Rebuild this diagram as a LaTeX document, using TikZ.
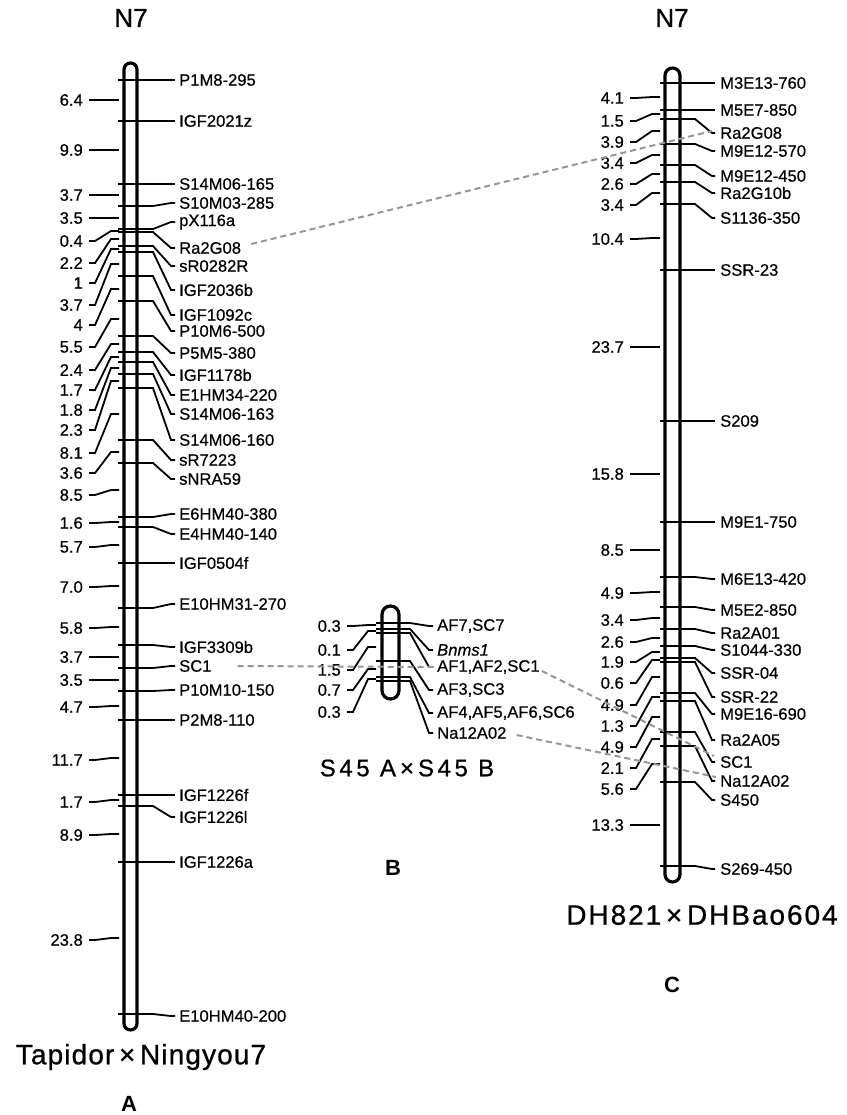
\documentclass[tikz,border=0pt]{standalone}
\usepackage{fontspec}
\setmainfont{Liberation Sans}
\usetikzlibrary{calc}
\definecolor{LinkGray}{RGB}{150,150,150}
\newcommand\lbl{\fontsize{16.6}{18}\selectfont\addfontfeature{FakeBold=0.5}}
\newcommand\ttl{\fontsize{28}{30}\selectfont\addfontfeature{FakeBold=0.8,LetterSpace=4}}

\begin{document}
\begin{tikzpicture}[x=1pt,y=-1pt,
    chrom/.style={line width=3.2pt,rounded corners=#1},
    chrom/.default=6.5pt,
    tick/.style={line width=1.8pt},
    mk/.style={anchor=west,inner sep=0pt,font=\lbl},
    dst/.style={anchor=east,inner sep=0pt,font=\lbl},
    link/.style={LinkGray,line width=2pt,dash pattern=on 6pt off 4pt}]
  \useasboundingbox (0,0) rectangle (846,1115);

  \draw[chrom] (124,63) rectangle (137,1030);
  \foreach \yt/\yl/\txt [count=\i] in {80/80/P1M8-295,121/121/IGF2021z,
      184/184/S14M06-165,206/203/S10M03-285,229/222/pX116a,232/248/Ra2G08,
      246/266/sR0282R,252/290/IGF2036b,276/315/IGF1092c,301/331/P10M6-500,
      336/353/P5M5-380,352/375/IGF1178b,362/395/E1HM34-220,374/414/S14M06-163,
      388/440/S14M06-160,440/460/sR7223,463/479/sNRA59,517/514/E6HM40-380,
      527/534/E4HM40-140,563/563/IGF0504f,608/604/E10HM31-270,645/647/IGF3309b,
      668/666/SC1,691/690/P10M10-150,720/720/P2M8-110,795/795/IGF1226f,
      806/817/IGF1226l,862/862/IGF1226a,1014/1016/E10HM40-200}{
    \draw[tick] (118,\yt) -- (153,\yt) -- (171,\yl) -- (175,\yl);
    \node[mk] (a\i) at (179,\yl) {\txt};
  }
  \foreach \yi/\yn/\d [count=\i] in {100/100/6.4,150/150/9.9,195/195/3.7,
      218/218/3.5,231/241/0.4,239/263/2.2,249/283/1,264/305/3.7,289/325/4,
      319/347/5.5,344/370/2.4,357/390/1.7,368/410/1.8,381/430/2.3,414/453/8.1,
      452/473/3.6,490/495/8.5,522/523/1.6,545/547/5.7,586/587/7.0,627/628/5.8,
      657/657/3.7,680/680/3.5,706/707/4.7,758/760/11.7,800/802/1.7,834/835/8.9,
      938/940/23.8}{
    \draw[tick] (119,\yi) -- (111,\yi) -- (95,\yn) -- (89,\yn);
    \node[dst] (ad\i) at (83,\yn) {\d};
  }

  \draw[chrom=8.5pt] (382,606) rectangle (399,699);
  \foreach \yt/\yl/\txt [count=\i] in {623/626/{AF7,SC7},629/650/{\textit{Bnms1}},
      633/667/{AF1,AF2,SC1},661/690/{AF3,SC3},677/713/{AF4,AF5,AF6,SC6},
      681/733/{Na12A02}}{
    \draw[tick] (376,\yt) -- (410,\yt) -- (429,\yl) -- (433,\yl);
    \node[mk] (b\i) at (437,\yl) {\txt};
  }
  \foreach \yi/\yn/\d [count=\i] in {625/626/0.3,631/650/0.1,647/670/1.5,
      669/690/0.7,679/712/0.3}{
    \draw[tick] (376,\yi) -- (368,\yi) -- (353,\yn) -- (347,\yn);
    \node[dst] (bd\i) at (341,\yn) {\d};
  }

  \draw[chrom=7.5pt] (665,68) rectangle (680,882);
  \foreach \yt/\yl/\txt [count=\i] in {83/83/M3E13-760,110/110/M5E7-850,
      119/133/Ra2G08,144/151/M9E12-570,165/176/M9E12-450,182/193/Ra2G10b,
      204/218/S1136-350,270/270/SSR-23,421/421/S209,522/522/M9E1-750,
      577/579/M6E13-420,607/610/M5E2-850,629/633/Ra2A01,646/650/S1044-330,
      658/673/SSR-04,662/697/SSR-22,693/714/M9E16-690,701/740/Ra2A05,
      732/762/SC1,746/781/Na12A02,782/800/S450,866/869/S269-450}{
    \draw[tick] (660,\yt) -- (695,\yt) -- (712,\yl) -- (715,\yl);
    \node[mk] (c\i) at (720,\yl) {\txt};
  }
  \foreach \yi/\yn/\d [count=\i] in {97/98/4.1,114/121/1.5,131/142/3.9,
      155/163/3.4,174/184/2.6,193/205/3.4,238/239/10.4,347/347/23.7,
      474/474/15.8,550/550/8.5,592/593/4.9,618/620/3.4,638/642/2.6,
      652/662/1.9,660/683/0.6,677/705/4.9,697/726/1.3,717/747/4.9,
      739/768/2.1,764/789/5.6,825/825/13.3}{
    \draw[tick] (660,\yi) -- (652,\yi) -- (636,\yn) -- (630,\yn);
    \node[dst] (cd\i) at (624,\yn) {\d};
  }

  \draw[link] ($(a6.east)+(10,-4)$) -- ($(c3.west)+(-8,-2)$);
  \draw[link] ($(a23.east)+(26,0)$) -- ($(b3.west)+(-2,0)$);
  \draw[link] ($(b3.east)+(2,4)$) -- ($(c19.west)+(-6,-6)$);
  \draw[link] ($(b6.east)+(10,2)$) -- ($(c20.west)+(-4,-4)$);

  \node[font=\fontsize{26}{28}\selectfont\addfontfeature{FakeBold=0.8}] (na)
    at (131,18) {N7};
  \node[font=\fontsize{26}{28}\selectfont\addfontfeature{FakeBold=0.8}] (nc)
    at (672,18) {N7};
  \node[font=\ttl] (ta) at (141,1057) {Tapidor\,×\,Ningyou7};
  \node[font=\fontsize{24}{26}\selectfont\addfontfeature{FakeBold=0.8,LetterSpace=15}]
    (tb) at (407,768) {S45 A\hspace{4pt}×\hspace{4pt}S45 B};
  \node[font=\ttl\addfontfeature{LetterSpace=7}] (tc) at (702,915)
    {DH821\,×\,DHBao604};
  \node[font=\fontsize{22}{24}\selectfont\bfseries] (la) at (129,1104) {A};
  \node[font=\fontsize{22}{24}\selectfont\bfseries] (lb) at (393,868) {B};
  \node[font=\fontsize{22}{24}\selectfont\bfseries] (lc) at (672,985) {C};
\end{tikzpicture}
\end{document}
